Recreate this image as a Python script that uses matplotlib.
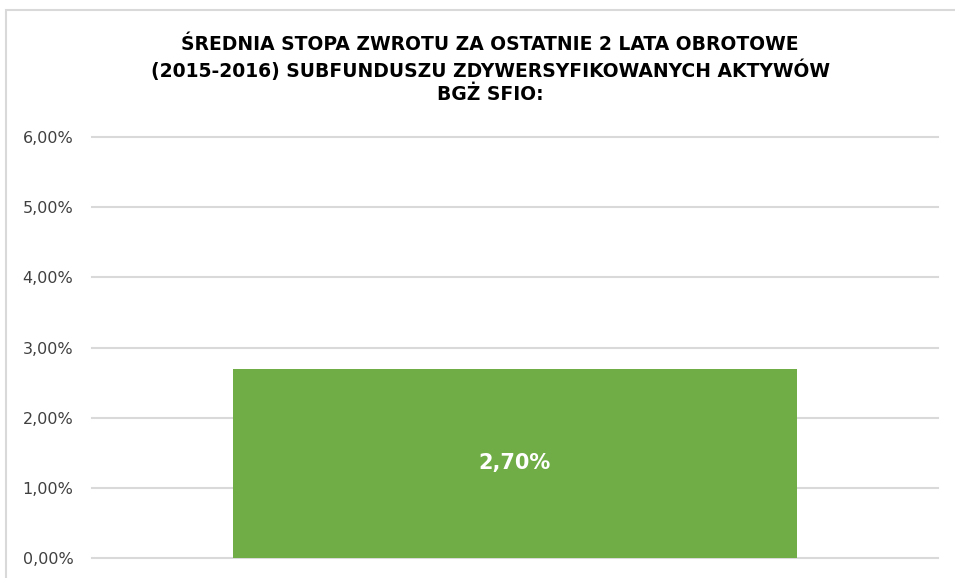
import matplotlib
matplotlib.use("Agg")
import matplotlib.pyplot as plt
from matplotlib.patches import Rectangle
from matplotlib.ticker import FuncFormatter

categories = [""]
values = [2.70]
yticks = [0, 1, 2, 3, 4, 5, 6]
title_lines = [
    "ŚREDNIA STOPA ZWROTU ZA OSTATNIE 2 LATA OBROTOWE",
    "(2015-2016) SUBFUNDUSZU ZDYWERSYFIKOWANYCH AKTYWÓW",
    "BGŻ SFIO:",
]
data_labels = ["2,70%"]

fig = plt.figure(figsize=(9.55, 5.78), dpi=100)
fig.patch.set_facecolor("white")

# outer chart border (partially cropped)
fig.add_artist(Rectangle((6 / 955, -0.1), 1.2, 1 - 10 / 578 + 0.1,
                         transform=fig.transFigure, fill=False,
                         edgecolor="#d9d9d9", linewidth=1.5))

ax = fig.add_axes([92 / 955, 1 - 558 / 578, (938 - 92) / 955, (558 - 137) / 578])
x = list(range(len(categories)))
bars = ax.bar(x, values, width=0.667, color="#70AD47", zorder=3)
ax.set_xlim(-0.5, 0.5)
ax.set_ylim(0, 6)
ax.set_yticks(yticks)
ax.yaxis.set_major_formatter(FuncFormatter(lambda v, p: f"{v:.2f}%".replace(".", ",")))
ax.set_xticks([])
ax.grid(axis="y", color="#d9d9d9", linewidth=1.5, zorder=0)
for gl in ax.get_ygridlines():
    gl.set_clip_on(False)
for s in ax.spines.values():
    s.set_visible(False)
ax.tick_params(axis="y", length=0, pad=13.5, labelsize=11.5, labelcolor="#404040")

for xi, v, lab in zip(x, values, data_labels):
    ax.text(xi, v / 2, lab, ha="center", va="center", color="white",
            fontsize=15, fontweight="bold", zorder=4)

ys = [45, 70, 95]
for line, yy in zip(title_lines, ys):
    fig.text(490 / 955, 1 - yy / 578, line, ha="center", va="center",
             fontsize=13.5, fontweight="bold", color="#000000",
             family="DejaVu Sans")

fig.savefig("out.png", dpi=100)
